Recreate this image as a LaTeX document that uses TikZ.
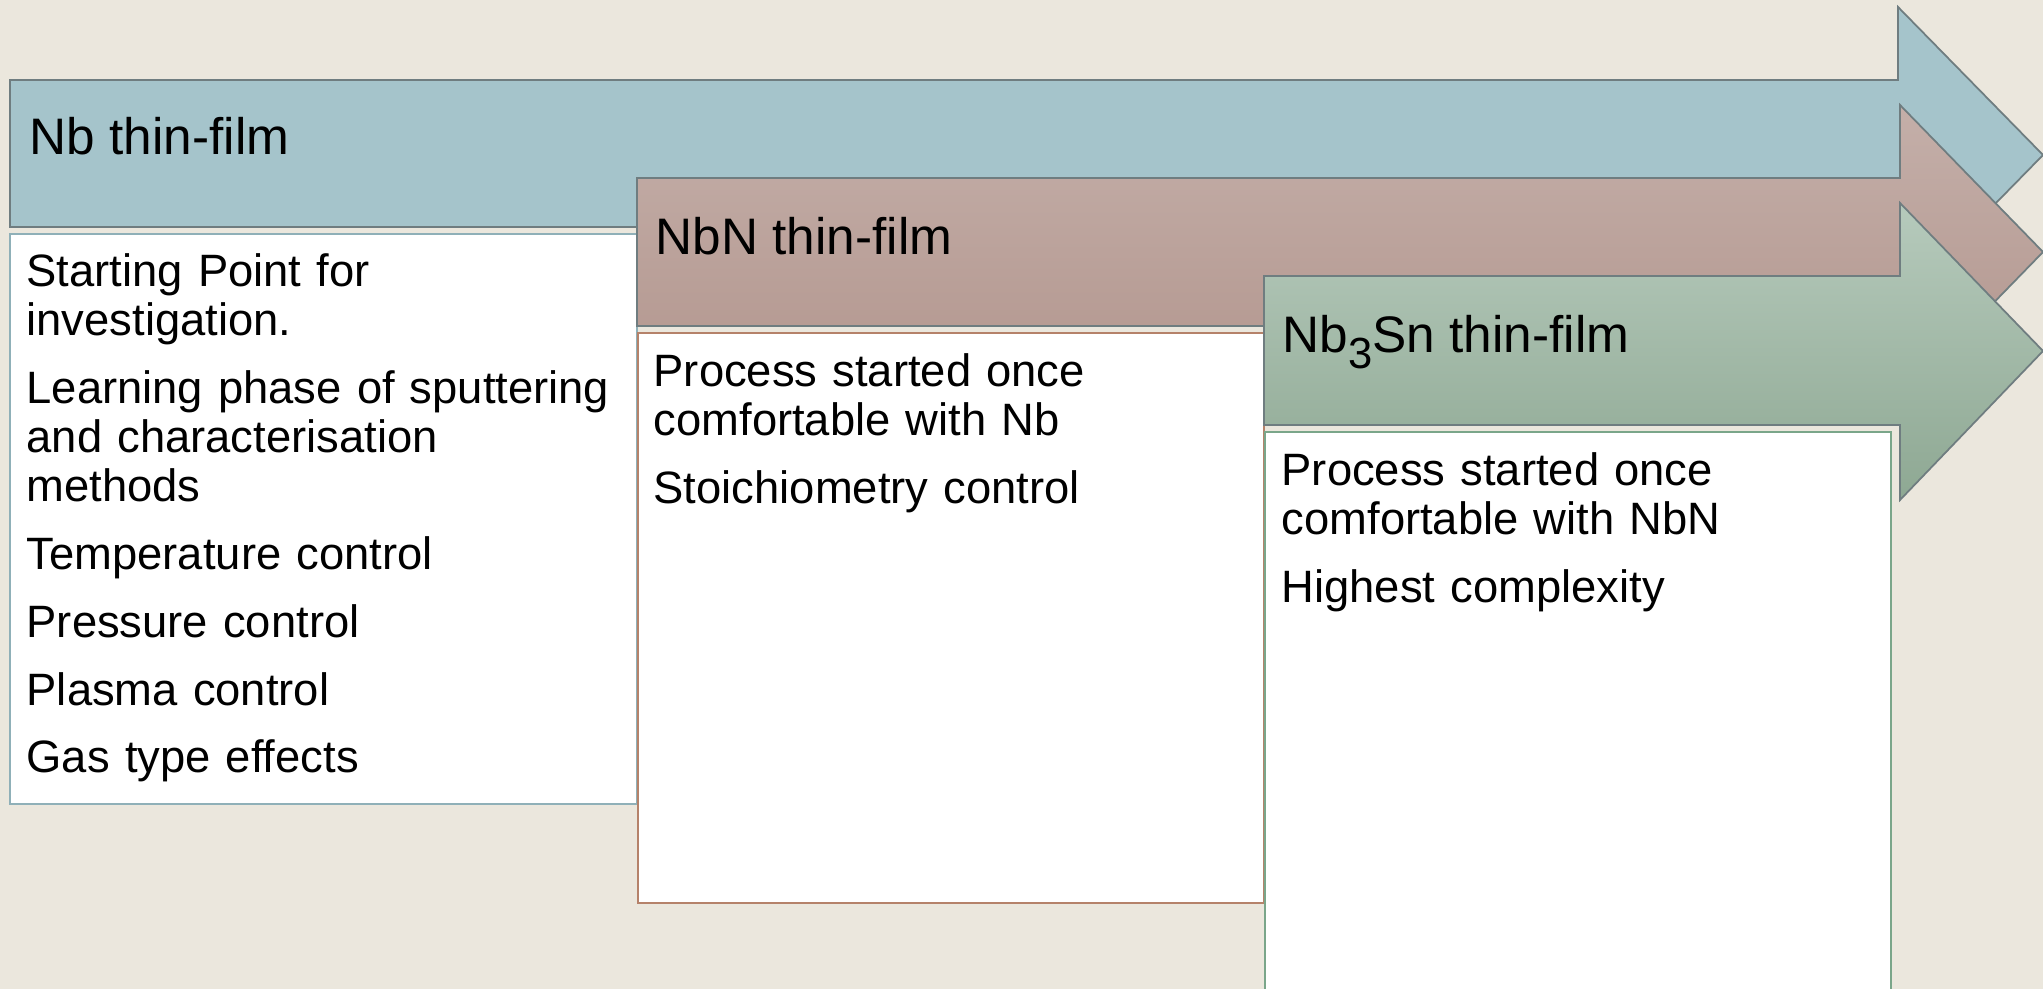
\documentclass[tikz,border=0pt]{standalone}
\usepackage{fontspec}
\setmainfont{Liberation Sans}

\definecolor{bgbeige}{HTML}{EBE7DD}
\definecolor{arrowline}{HTML}{6F7D80}
\definecolor{nbblue}{HTML}{A5C4CB}
\definecolor{nbntop}{HTML}{C4AFA9}
\definecolor{nbnbot}{HTML}{B2958D}
\definecolor{sntop}{HTML}{B6CABC}
\definecolor{snbot}{HTML}{8EA893}
\definecolor{nbedge}{HTML}{8FB0B8}
\definecolor{nbnedge}{HTML}{B5826A}
\definecolor{snedge}{HTML}{7AA68A}

\newcommand\titlefont{\fontsize{14.6}{16}\selectfont}
\newcommand\itemfont{\fontsize{12.9}{13.9}\selectfont}

\tikzset{
  stagearrow/.style={draw=arrowline, line width=0.5pt, line join=miter},
  stagebox/.style={fill=white, line width=0.6pt},
  stagetitle/.style={anchor=base west, inner sep=0pt, font=\titlefont},
  stagetext/.style={anchor=base west, inner sep=0pt, align=left, text width=6cm, font=\itemfont},
}

\begin{document}
\begin{tikzpicture}[x=0.01cm, y=-0.01cm]
        \clip (0,0) rectangle (2043,989);
        \fill[bgbeige] (0,0) rectangle (2043,989);

        % Nb thin-film stage
        \filldraw[fill=nbblue, stagearrow] (10,80) -- (1898,80) -- (1898,7) -- (2043,155)
            -- (1898,303) -- (1898,227) -- (10,227) -- cycle;
        \node[stagetitle] (nbTitle) at (29,155) {Nb thin-film};
        \draw[stagebox, draw=nbedge] (10,234) rectangle (637,804);
        \node[stagetext] (nbText) at (26,287) {Starting Point for\\
            investigation.\\[5.4pt]
            Learning phase of sputtering\\
            and characterisation\\
            methods\\[5.4pt]
            Temperature control\\[5.4pt]
            Pressure control\\[5.4pt]
            Plasma control\\[5.4pt]
            Gas type effects};

        % NbN thin-film stage
        \shadedraw[top color=nbntop, bottom color=nbnbot, stagearrow] (637,178) -- (1900,178) -- (1900,105)
            -- (2043,252) -- (1900,399) -- (1900,326) -- (637,326) -- cycle;
        \node[stagetitle] (nbnTitle) at (655,255) {NbN thin-film};
        \draw[stagebox, draw=nbnedge] (638,333) rectangle (1264,903);
        \node[stagetext] (nbnText) at (653,387) {Process started once\\
            comfortable with Nb\\[5.4pt]
            Stoichiometry control};

        % Nb3Sn thin-film stage
        \shadedraw[top color=sntop, bottom color=snbot, stagearrow] (1264,276) -- (1900,276) -- (1900,203)
            -- (2043,351) -- (1900,500) -- (1900,425) -- (1264,425) -- cycle;
        \node[stagetitle] (snTitle) at (1282,353)
            {Nb\raisebox{-4.3pt}{\fontsize{12.4}{13}\selectfont 3}Sn thin-film};
        \draw[stagebox, draw=snedge] (1265,432) rectangle (1891,1000);
        \node[stagetext] (snText) at (1281,486) {Process started once\\
            comfortable with NbN\\[5.4pt]
            Highest complexity};

    \end{tikzpicture}
\end{document}
